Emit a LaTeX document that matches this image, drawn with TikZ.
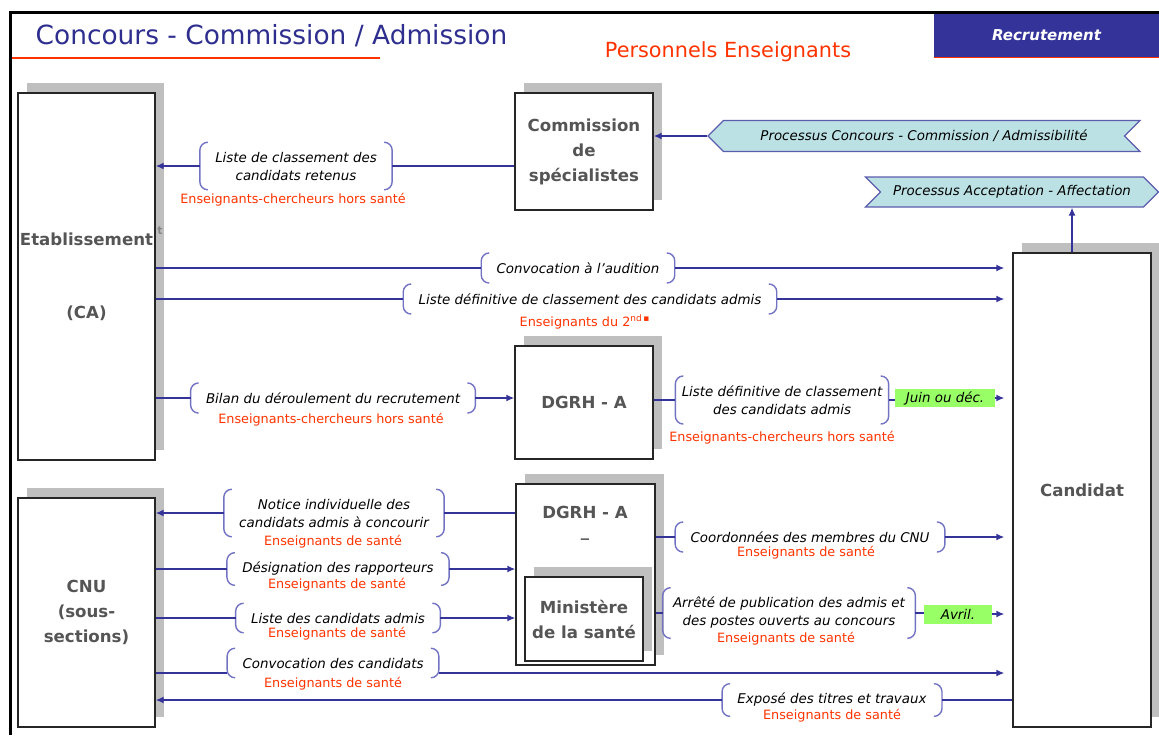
\documentclass[tikz,border=0pt]{standalone}
\usepackage{fontspec}
\setmainfont{DejaVu Sans}
\usepackage{tikz}
\usetikzlibrary{arrows.meta,shadows,shapes.symbols}

\definecolor{lineblue}{HTML}{333399}
\definecolor{bracketblue}{HTML}{7373C4}
\definecolor{titleblue}{HTML}{2E2E8F}
\definecolor{redlabel}{HTML}{FF3300}
\definecolor{boxgray}{HTML}{555555}
\definecolor{shadowgray}{HTML}{BFBFBF}
\definecolor{processfill}{HTML}{BBE1E4}
\definecolor{datefill}{HTML}{99FF66}

\tikzstyle{box} = [draw=black!85, line width=0.7pt, fill=white, rectangle, inner sep=0pt,
  drop shadow={shadow xshift=4.5pt, shadow yshift=5pt, fill=shadowgray, opacity=1},
  font={\fontsize{8.3}{12.5}\selectfont\bfseries}, text=boxgray, align=center]
\tikzstyle{boxtext} = [font={\fontsize{8.3}{12.5}\selectfont\bfseries}, text=boxgray, inner sep=0pt]
\tikzstyle{msg} = [font={\fontsize{6.7}{9}\selectfont\itshape}, align=center, inner xsep=7.5pt, inner ysep=4.6pt]
\tikzstyle{who} = [font={\fontsize{6.4}{7}\selectfont}, text=redlabel, inner sep=1pt]
\tikzstyle{link} = [draw=lineblue, line width=0.7pt]
\tikzstyle{send} = [link, -{Latex[length=4pt,width=3.5pt]}]
\tikzstyle{curly} = [draw=bracketblue, line width=0.7pt]
\tikzstyle{process} = [signal, draw=lineblue!80, line width=0.6pt, fill=processfill, inner sep=0pt,
  font={\fontsize{6.7}{7}\selectfont\itshape}]
\tikzstyle{datebox} = [fill=datefill, font={\fontsize{6.7}{7}\selectfont\itshape}, inner sep=0pt]

% rounded brackets on both sides of a message node
\newcommand{\msgbrackets}[1]{%
  \draw[curly] ([xshift=4pt]#1.north west) to[out=180,in=90] ([yshift=-4pt]#1.north west)
    -- ([yshift=4pt]#1.south west) to[out=-90,in=180] ([xshift=4pt]#1.south west);
  \draw[curly] ([xshift=-4pt]#1.north east) to[out=0,in=90] ([yshift=-4pt]#1.north east)
    -- ([yshift=4pt]#1.south east) to[out=-90,in=0] ([xshift=-4pt]#1.south east);}

\begin{document}
\begin{tikzpicture}[x=0.5pt, y=-0.5pt]
  \useasboundingbox (0,0) rectangle (1159,735);

  % frame and header
  \draw[line width=1.5pt] (10,735) -- (10,12) -- (1159,12);
  \node[text=titleblue, font={\fontsize{13.2}{15}\selectfont}] (title) at (271.5,36) {Concours - Commission / Admission};
  \draw[redlabel, line width=0.8pt] (12,58) -- (380,58);
  \node[text=redlabel, font={\fontsize{10.4}{12}\selectfont}] (staff) at (728,52) {Personnels Enseignants};
  \node[fill=lineblue, minimum width=112.5pt, minimum height=21.5pt, text=white,
    font={\fontsize{7.5}{9}\selectfont\bfseries\itshape}] (rec) at (1046.5,35.5) {Recrutement};
  \draw[redlabel, line width=0.8pt] (rec.south west) -- (rec.south east);

  % boxes
  \node[box, minimum width=68.5pt, minimum height=183.5pt] (etab) at (86.5,276.5) {Etablissement\\[24pt](CA)};
  \node[text=boxgray!70, font={\fontsize{5.5}{6}\selectfont\bfseries}] (etabt) at (160,231) {t};
  \node[box, minimum width=69pt, minimum height=58.5pt] (comm) at (584,151.5) {Commission\\de\\spécialistes};
  \node[box, minimum width=69pt, minimum height=56.5pt] (dgrha) at (584,402.5) {DGRH - A};
  \node[box, minimum width=69pt, minimum height=237pt] (cand) at (1082,490) {Candidat};
  \node[box, minimum width=68.5pt, minimum height=114.5pt] (cnu) at (86.5,612.5) {CNU\\(sous-\\sections)};
  \node[box, minimum width=69.5pt, minimum height=90.5pt] (dgrhb) at (585.5,574.5) {};
  \node[boxtext] (dgrhbtitle) at (585,512) {DGRH - A};
  \node[boxtext] (dgrhbdash) at (585,538) {\_};
  \node[box, minimum width=59pt, minimum height=42pt] (min) at (584,619) {Ministère\\de la santé};

  % processes
  \node[process, signal to=west, signal from=east, minimum width=216pt, minimum height=15.5pt] (proc1) at (924,136)
    {Processus Concours - Commission / Admissibilité};
  \node[process, signal to=east, signal from=west, minimum width=146.5pt, minimum height=15pt] (proc2) at (1012,192)
    {Processus Acceptation - Affectation};
  \draw[send] (proc1.west) -- (comm.east |- proc1.west);
  \coordinate (candtop) at ([xshift=-5pt]cand.north);
  \draw[send] (candtop) -- (candtop |- proc2.south);

  % Etablissement
  \node[msg] (m1) at (296,166) {Liste de classement des\\candidats retenus};
  \node[who] (w1) at (293,200) {Enseignants-chercheurs hors santé};
  \msgbrackets{m1}
  \draw[link] (comm.west |- m1.east) -- (m1.east);
  \draw[send] (m1.west) -- (etab.east |- m1.west);

  \node[msg] (m2) at (578,268) {Convocation à l’audition};
  \msgbrackets{m2}
  \draw[link] (etab.east |- m2.west) -- (m2.west);
  \draw[send, shorten >=4pt] (m2.east) -- (cand.west |- m2.east);

  \node[msg] (m3) at (590,299) {Liste définitive de classement des candidats admis};
  \node[who] (w3) at (585,322) {Enseignants du 2\textsuperscript{nd\,▪}};
  \msgbrackets{m3}
  \draw[link] (etab.east |- m3.west) -- (m3.west);
  \draw[send, shorten >=4pt] (m3.east) -- (cand.west |- m3.east);

  \node[msg] (m4) at (333,398) {Bilan du déroulement du recrutement};
  \node[who] (w4) at (331,420) {Enseignants-chercheurs hors santé};
  \msgbrackets{m4}
  \draw[link] (etab.east |- m4.west) -- (m4.west);
  \draw[send] (m4.east) -- (dgrha.west |- m4.east);

  % DGRH - A
  \node[msg, inner xsep=3pt] (m5) at (782,400) {Liste définitive de classement\\des candidats admis};
  \node[who] (w5) at (782,438) {Enseignants-chercheurs hors santé};
  \node[datebox, minimum width=50pt, minimum height=9pt] (d5) at (945,398) {Juin ou déc.};
  \msgbrackets{m5}
  \draw[link] (dgrha.east |- m5.west) -- (m5.west);
  \draw[link] (m5.east) -- (d5.west |- m5.east);
  \draw[send, shorten >=4pt] (d5.east) -- (cand.west |- d5.east);

  % CNU
  \node[msg] (m6) at (334,513) {Notice individuelle des\\candidats admis à concourir};
  \node[who] (w6) at (333,542) {Enseignants de santé};
  \msgbrackets{m6}
  \draw[link] (dgrhb.west |- m6.east) -- (m6.east);
  \draw[send] (m6.west) -- (cnu.east |- m6.west);

  \node[msg] (m7) at (338,569) {Désignation des rapporteurs};
  \node[who] (w7) at (337,585) {Enseignants de santé};
  \msgbrackets{m7}
  \draw[link] (cnu.east |- m7.west) -- (m7.west);
  \draw[send] (m7.east) -- (dgrhb.west |- m7.east);

  \node[msg] (m8) at (338,618) {Liste des candidats admis};
  \node[who] (w8) at (337,634) {Enseignants de santé};
  \msgbrackets{m8}
  \draw[link] (cnu.east |- m8.west) -- (m8.west);
  \draw[send] (m8.east) -- (dgrhb.west |- m8.east);

  \node[msg] (m9) at (333,663) {Convocation des candidats};
  \node[who] (w9) at (333,684) {Enseignants de santé};
  \msgbrackets{m9}
  \coordinate (c9w) at ([yshift=-5pt]m9.west);
  \coordinate (c9e) at ([yshift=-5pt]m9.east);
  \draw[link] (cnu.east |- c9w) -- (c9w);
  \draw[send, shorten >=4pt] (c9e) -- (cand.west |- c9e);

  \node[msg] (m10) at (832,700) {Exposé des titres et travaux};
  \node[who] (w10) at (832,716) {Enseignants de santé};
  \msgbrackets{m10}
  \draw[link] (cand.west |- m10.east) -- (m10.east);
  \draw[send] (m10.west) -- (cnu.east |- m10.west);

  % DGRH - A / Ministere
  \node[msg] (m11) at (810,537) {Coordonnées des membres du CNU};
  \node[who] (w11) at (806,553) {Enseignants de santé};
  \msgbrackets{m11}
  \draw[link] (dgrhb.east |- m11.west) -- (m11.west);
  \draw[send, shorten >=4pt] (m11.east) -- (cand.west |- m11.east);

  \node[msg, inner xsep=5pt] (m12) at (789,613) {Arrêté de publication des admis et\\des postes ouverts au concours};
  \node[who] (w12) at (786,639) {Enseignants de santé};
  \node[datebox, minimum width=34pt, minimum height=9.5pt] (d12) at (958,614) {Avril.};
  \msgbrackets{m12}
  \draw[link] (dgrhb.east |- m12.west) -- (m12.west);
  \draw[link] (m12.east) -- (d12.west |- m12.east);
  \draw[send, shorten >=4pt] (d12.east) -- (cand.west |- d12.east);
\end{tikzpicture}
\end{document}
